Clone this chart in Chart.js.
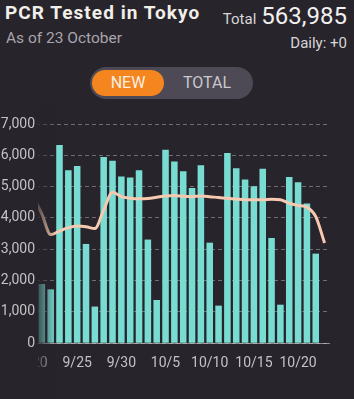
<!DOCTYPE html>
<html>
<head>
<meta charset="utf-8">
<script src="https://cdn.jsdelivr.net/npm/chart.js@4"></script>
<style>
  html,body{margin:0;padding:0;background:#27242b;width:354px;height:399px;overflow:hidden;font-family:Roboto,"Noto Sans",sans-serif;}
  .t{position:absolute;white-space:nowrap;}
  #title{left:5px;top:1px;font-size:19px;font-weight:bold;color:#f2efe9;letter-spacing:1.05px;}
  #asof{left:6px;top:29px;font-size:15.5px;color:#a9a5ad;}
  #total{right:7px;top:2px;color:#f2f0f0;}
  #total .lbl{font-size:15px;color:#d8d5d8;}
  #total .num{font-size:24px;margin-left:5px;}
  #daily{right:7px;top:34px;font-size:15px;color:#d8d5d8;}
  #toggle{position:absolute;left:90px;top:67px;width:163px;height:32px;border-radius:16px;background:#4d4955;}
  #new{position:absolute;left:2px;top:3px;width:72px;height:26px;border-radius:13px;background:#f5861f;color:#fbeee2;font-size:16px;line-height:26px;text-align:center;}
  #tot{position:absolute;left:86px;top:3px;width:62px;height:26px;color:#cbc7cd;font-size:16px;line-height:26px;text-align:center;}
  #wrap{position:absolute;left:0;top:100px;width:354px;height:299px;}
</style>
</head>
<body>
<div id="title" class="t">PCR Tested in Tokyo</div>
<div id="asof" class="t">As of 23 October</div>
<div id="total" class="t"><span class="lbl">Total</span><span class="num">563,985</span></div>
<div id="daily" class="t">Daily: +0</div>
<div id="toggle"><div id="new">NEW</div><div id="tot">TOTAL</div></div>
<div id="wrap"><canvas id="c"></canvas></div>
<script>
const dates = ["9/20","9/21","9/22","9/23","9/24","9/25","9/26","9/27","9/28","9/29","9/30",
  "10/1","10/2","10/3","10/4","10/5","10/6","10/7","10/8","10/9","10/10",
  "10/11","10/12","10/13","10/14","10/15","10/16","10/17","10/18","10/19","10/20",
  "10/21","10/22","10/23"];
const dailyTested = [1300,1890,1720,6330,5520,5660,3170,1170,5950,5830,5320,
  5290,5520,3310,1380,6180,5800,5490,4960,5680,3210,
  1200,6070,5590,5230,5010,5570,3360,1230,5310,5140,
  4460,2860,0];
const avg7 = [4700,4120,3470,3580,3690,3740,3720,3660,4250,4820,4680,
  4630,4610,4620,4660,4700,4720,4690,4680,4700,4680,
  4650,4630,4600,4580,4580,4580,4600,4580,4470,4400,
  4340,4040,3200];
const xTickDates = ["9/20","9/25","9/30","10/5","10/10","10/15","10/20"];
const yTicks = [0,1000,2000,3000,4000,5000,6000,7000];
const BG = '#27242b';

const barPts = dates.map((d,i)=>({x:i,y:dailyTested[i]}));
const linePts = dates.map((d,i)=>({x:i,y:avg7[i]}));

const fadePlugin = {
  id:'fade',
  afterDatasetsDraw(chart){
    const ctx = chart.ctx, h = chart.height;
    ctx.save();
    ctx.fillStyle = BG;
    ctx.fillRect(0,0,38,h);
    const g = ctx.createLinearGradient(38,0,56,0);
    g.addColorStop(0,'rgba(39,36,43,0.75)');
    g.addColorStop(1,'rgba(39,36,43,0)');
    ctx.fillStyle = g;
    ctx.fillRect(38,0,18,h);
    ctx.restore();
  }
};

new Chart(document.getElementById('c'),{
  data:{
    datasets:[
      {type:'line',data:linePts,borderColor:'#f6c9b0',borderWidth:3,pointRadius:0,tension:0.4,cubicInterpolationMode:'monotone',order:0,clip:false},
      {type:'bar',data:barPts,backgroundColor:'#78dcd2',categoryPercentage:1,barPercentage:0.74,order:1,clip:false}
    ]
  },
  options:{
    responsive:true,maintainAspectRatio:false,animation:false,
    layout:{padding:{top:24,bottom:15,left:0,right:25}},
    plugins:{legend:{display:false},tooltip:{enabled:false}},
    scales:{
      x:{
        type:'linear',min:0.34,max:33.5,offset:false,
        afterBuildTicks:s=>{s.ticks=xTickDates.map(d=>({value:dates.indexOf(d)}));},
        grid:{display:false,drawTicks:false,offset:false},
        border:{display:true,color:'rgba(220,220,220,0.55)',width:1},
        ticks:{color:'#c4c1c6',font:{size:14,family:'Roboto'},padding:12,autoSkip:false,maxRotation:0,
          callback:function(v){return dates[v];}}
      },
      y:{
        min:0,max:7000,
        afterBuildTicks:s=>{s.ticks=yTicks.map(v=>({value:v}));},
        afterFit:s=>{s.width=36;},
        grid:{color:'rgba(200,200,200,0.45)',drawTicks:false},
        border:{display:false,dash:[4,3]},
        ticks:{z:1,color:'#c4c1c6',font:{size:14,family:'Roboto'},padding:1}
      }
    }
  },
  plugins:[fadePlugin]
});
</script>
</body>
</html>
